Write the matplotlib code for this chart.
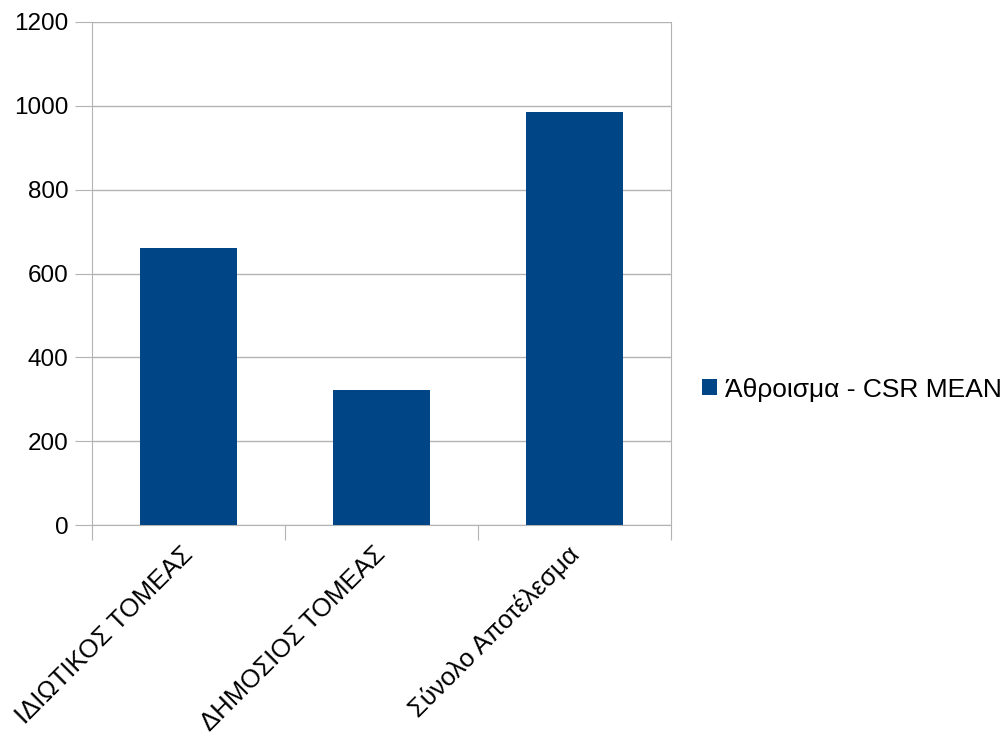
import matplotlib.pyplot as plt
import matplotlib.transforms as mtransforms
import numpy as np

categories = ["ΙΔΙΩΤΙΚΟΣ ΤΟΜΕΑΣ", "ΔΗΜΟΣΙΟΣ ΤΟΜΕΑΣ", "Σύνολο Αποτέλεσμα"]
csr_mean = [661, 322, 985]
series_name = "Άθροισμα - CSR MEAN"
yticks = [0, 200, 400, 600, 800, 1000, 1200]

plt.rcParams["font.family"] = ["Liberation Sans", "DejaVu Sans"]
bar_color = "#004586"
grid_color = "#b3b3b3"

fig = plt.figure(figsize=(10.04, 7.38), dpi=100)
ax = fig.add_axes([0.0916, 0.2886, 0.5767, 0.6816])

x = np.arange(len(categories))
ax.bar(x, csr_mean, width=0.5, color=bar_color, label=series_name, zorder=3)

ax.set_xlim(-0.5, len(categories) - 0.5)
ax.set_ylim(0, 1200)
ax.set_yticks(yticks)
ax.set_yticklabels([str(t) for t in yticks], fontsize=17.5)
ax.yaxis.grid(True, color=grid_color, linewidth=1, zorder=0)

# ticks on the category boundaries, labels drawn as rotated texts under the bars
ax.set_xticks(np.arange(len(categories) + 1) - 0.5)
ax.set_xticklabels([])
ax.tick_params(axis="x", length=11, color=grid_color)
ax.tick_params(axis="y", length=12, color=grid_color, pad=5)

lbl_trans = ax.get_xaxis_transform() + mtransforms.ScaledTranslation(
    -0.08, -0.17, fig.dpi_scale_trans)
for xi, cat in zip(x, categories):
    ax.text(xi, 0, cat, transform=lbl_trans, rotation=45, ha="right",
            va="top", rotation_mode="anchor", fontsize=18.5)

for side in ["top", "right", "left", "bottom"]:
    ax.spines[side].set_color(grid_color)
ax.spines["top"].set_visible(False)

fig.legend(loc="center left", bbox_to_anchor=(0.699, 0.472), frameon=False,
           fontsize=19, handlelength=0.57, handleheight=0.57, handletextpad=0.3,
           borderpad=0, borderaxespad=0)

fig.savefig("out.png", dpi=100)
plt.close("all")
